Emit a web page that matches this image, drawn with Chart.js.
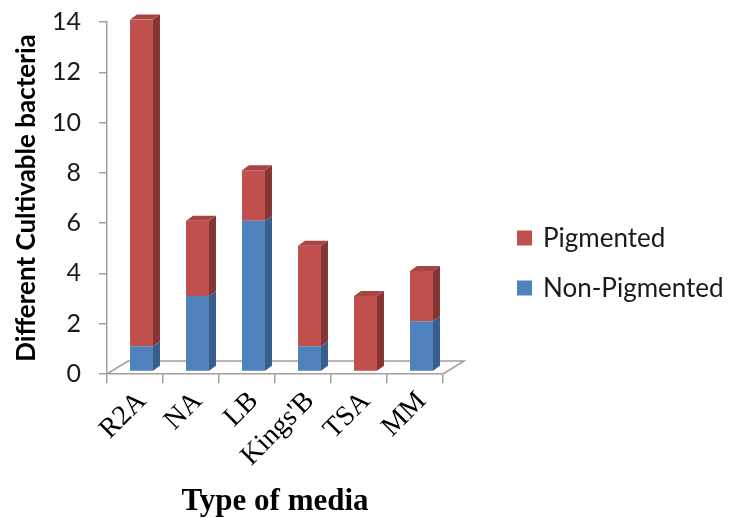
<!DOCTYPE html>
<html>
<head>
<meta charset="utf-8">
<script src="https://cdn.jsdelivr.net/npm/chart.js@4/dist/chart.umd.min.js"></script>
<style>
  html, body { margin: 0; padding: 0; background: #ffffff; }
  #wrap { width: 729px; height: 518px; }
</style>
</head>
<body>
<div id="wrap"><canvas id="c" width="729" height="518"></canvas></div>
<script>
// Media types and colony counts per pigmentation group
const categories = ['R2A', 'NA', 'LB', "Kings'B", 'TSA', 'MM'];
const nonPigmented = [1, 3, 6, 1, 0, 2];
const pigmented = [13, 3, 2, 4, 3, 2];
const seriesNames = ['Non-Pigmented', 'Pigmented'];
const yMin = 0, yMax = 14, yStep = 2;

// Face colours: front, side (shaded), top
const palette = [
  { front: '#4F81BD', side: '#375E8C', top: '#4674AB' },
  { front: '#C0504D', side: '#873533', top: '#A84441' }
];

// Pseudo-3D geometry
const BAR_DX = 7, BAR_DY = -5;       // depth of each column
const SHIFT_X = 6.5, SHIFT_Y = -2.5; // columns sit inside the floor
const FLOOR_DX = 21, FLOOR_DY = -13; // depth of the floor plate
const AXIS_GREY = '#A0A0A0';

const box3d = {
  id: 'box3d',
  beforeDatasetsDraw(chart) {
    const { ctx, chartArea: a } = chart;
    ctx.save();
    ctx.strokeStyle = AXIS_GREY;
    ctx.lineWidth = 1.5;
    ctx.beginPath();
    ctx.moveTo(a.left, a.bottom);
    ctx.lineTo(a.left + FLOOR_DX, a.bottom + FLOOR_DY);
    ctx.lineTo(a.right + FLOOR_DX, a.bottom + FLOOR_DY);
    ctx.lineTo(a.right, a.bottom);
    ctx.stroke();
    ctx.restore();
    ctx.save();
    ctx.translate(SHIFT_X, SHIFT_Y);
  },
  afterDatasetsDraw(chart) {
    const ctx = chart.ctx;
    const sets = chart.data.datasets;
    sets.forEach((ds, di) => {
      const meta = chart.getDatasetMeta(di);
      meta.data.forEach((bar, i) => {
        if (!ds.data[i]) return;
        const { x, y, base, width } = bar.getProps(['x', 'y', 'base', 'width'], true);
        const r = x + width / 2, l = x - width / 2;
        ctx.fillStyle = palette[di].side;
        ctx.beginPath();
        ctx.moveTo(r, y);
        ctx.lineTo(r + BAR_DX, y + BAR_DY);
        ctx.lineTo(r + BAR_DX, base + BAR_DY);
        ctx.lineTo(r, base);
        ctx.closePath();
        ctx.fill();
        const isTop = sets.slice(di + 1).every(d => !d.data[i]);
        if (isTop) {
          ctx.fillStyle = palette[di].top;
          ctx.beginPath();
          ctx.moveTo(l, y);
          ctx.lineTo(l + BAR_DX, y + BAR_DY);
          ctx.lineTo(r + BAR_DX, y + BAR_DY);
          ctx.lineTo(r, y);
          ctx.closePath();
          ctx.fill();
        }
      });
    });
    ctx.restore();
  }
};

// Legend on the right, top series listed first
const sideLegend = {
  id: 'sideLegend',
  afterDraw(chart) {
    const ctx = chart.ctx;
    const sets = chart.data.datasets;
    const x0 = 517, y0 = 238, gap = 50, box = 15;
    ctx.save();
    ctx.font = '26px Lato, "Open Sans", sans-serif';
    ctx.textBaseline = 'middle';
    ctx.textAlign = 'left';
    sets.slice().reverse().forEach((ds, k) => {
      const cy = y0 + k * gap;
      ctx.fillStyle = ds.backgroundColor;
      ctx.fillRect(x0, cy - box / 2, box, box);
      ctx.fillStyle = '#1a1a1a';
      ctx.fillText(ds.label, x0 + box + 11, cy + 1);
    });
    ctx.restore();
  }
};

new Chart(document.getElementById('c'), {
  type: 'bar',
  data: {
    labels: categories,
    datasets: [
      { label: seriesNames[0], data: nonPigmented, backgroundColor: palette[0].front },
      { label: seriesNames[1], data: pigmented, backgroundColor: palette[1].front }
    ]
  },
  options: {
    responsive: false,
    animation: false,
    devicePixelRatio: 1,
    categoryPercentage: 1,
    barPercentage: 0.41,
    layout: { padding: { left: 0, top: 22, right: 286, bottom: 0 } },
    plugins: {
      legend: { display: false },
      tooltip: { enabled: false }
    },
    scales: {
      x: {
        stacked: true,
        grid: { display: true, drawOnChartArea: false, offset: true, tickLength: 9, color: AXIS_GREY, lineWidth: 1.5 },
        border: { display: true, color: AXIS_GREY, width: 1.5 },
        ticks: {
          minRotation: 45, maxRotation: 45, padding: 2, labelOffset: 7,
          color: '#000',
          font: { family: '"Liberation Serif", "Times New Roman", serif', size: 28 }
        },
        title: {
          display: true, text: 'Type of media', color: '#000',
          font: { family: '"Liberation Serif", "Times New Roman", serif', size: 31, weight: 'bold', lineHeight: 1 },
          padding: { top: 0, bottom: 1 }
        },
        afterFit(s) { s.height = 144; }
      },
      y: {
        stacked: true,
        min: yMin, max: yMax,
        grid: { display: true, drawOnChartArea: false, tickLength: 8, color: AXIS_GREY, lineWidth: 1.5 },
        border: { display: true, color: AXIS_GREY, width: 1.5 },
        ticks: {
          stepSize: yStep, padding: 18, color: '#1a1a1a',
          font: { family: 'Lato, "Open Sans", sans-serif', size: 25 }
        },
        title: {
          display: true, text: 'Different Cultivable bacteria', color: '#000',
          font: { family: 'Lato, "Open Sans", sans-serif', size: 26, weight: 'bold', lineHeight: 1 },
          padding: { top: 14, bottom: 0 }
        },
        afterFit(s) { s.width = 107; s.paddingTop = 0; s.paddingBottom = 0; }
      }
    }
  },
  plugins: [box3d, sideLegend]
});
</script>
</body>
</html>
